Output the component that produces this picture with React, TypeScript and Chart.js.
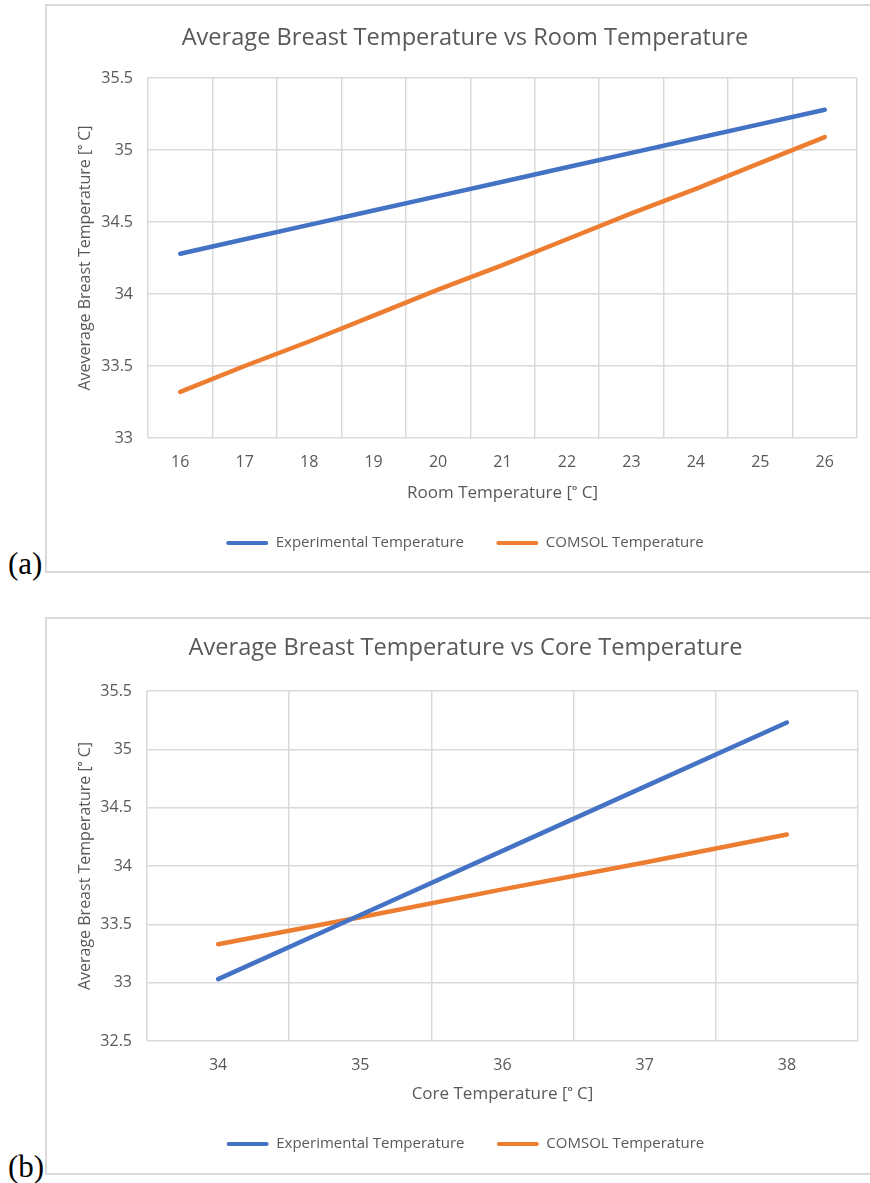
import React, { useEffect, useRef } from 'react';
import { Chart, registerables } from 'chart.js';

Chart.register(...registerables);

// ---------- Data ----------
const roomTemps = ['16', '17', '18', '19', '20', '21', '22', '23', '24', '25', '26'];
const roomExperimental = [34.28, 34.38, 34.48, 34.58, 34.68, 34.78, 34.88, 34.98, 35.08, 35.18, 35.28];
const roomComsol = [33.32, 33.5, 33.67, 33.85, 34.03, 34.2, 34.38, 34.56, 34.73, 34.91, 35.09];

const coreTemps = ['34', '35', '36', '37', '38'];
const coreExperimental = [33.03, 33.58, 34.13, 34.68, 35.23];
const coreComsol = [33.33, 33.56, 33.8, 34.03, 34.27];

const seriesNames = ['Experimental Temperature', 'COMSOL Temperature'];

const titleA = 'Average Breast Temperature vs Room Temperature';
const titleB = 'Average Breast Temperature vs Core Temperature';
const xTitleA = 'Room Temperature [ᵒ C]';
const xTitleB = 'Core Temperature [ᵒ C]';
const yTitleA = 'Aveverage Breast Temperature [ᵒ C]';
const yTitleB = 'Average Breast Temperature [ᵒ C]';

// ---------- Styles ----------
const BLUE = '#4472C4';
const ORANGE = '#ED7D31';
const TEXT = '#595959';
const GRID = '#d9d9d9';
const FONT = '"Open Sans", Lato, sans-serif';

const TITLE_SIZE = 23.6;
const TICK_SIZE = 16;
const X_TITLE_SIZE = 17;
const Y_TITLE_SIZE = 16;
const LEGEND_SIZE = 15;

type Geo = {
  width: number;
  height: number;
  padLeft: number;
  padRight: number;
  plotLeft: number;
  plotTop: number;
  plotBottom: number;
  titleCenter: number;
  xTickCenter: number;
  xTitleCenter: number;
  legendCenter: number;
  yTitleCenter: number;
  yTickPad: number;
};

type Props = {
  labels: string[];
  exp: number[];
  com: number[];
  yMin: number;
  yMax: number;
  title: string;
  xTitle: string;
  yTitle: string;
  geo: Geo;
};

function LineChart({ labels, exp, com, yMin, yMax, title, xTitle, yTitle, geo }: Props) {
  const ref = useRef<HTMLCanvasElement>(null);

  useEffect(() => {
    if (!ref.current) return;
    const tLH = TITLE_SIZE * 1.2;
    const tickLH = TICK_SIZE * 1.2;
    const xLH = X_TITLE_SIZE * 1.2;
    const yLH = Y_TITLE_SIZE * 1.2;
    const titlePadTop = geo.titleCenter - tLH / 2;
    const titlePadBottom = geo.plotTop - titlePadTop - tLH;
    const xTickPad = geo.xTickCenter - geo.plotBottom - tickLH / 2;
    const xHeight = geo.xTitleCenter - geo.plotBottom + xLH / 2;
    const legendPad = geo.legendCenter - geo.plotBottom - xHeight - LEGEND_SIZE / 2;
    const legendH = LEGEND_SIZE + legendPad + 10;
    const padBottom = geo.height - geo.plotBottom - xHeight - legendH;
    const yWidth = geo.plotLeft - geo.padLeft;
    const yTitlePad = geo.yTitleCenter - geo.padLeft - yLH / 2;

    const chart = new Chart(ref.current, {
      type: 'line',
      data: {
        labels,
        datasets: [
          {
            label: seriesNames[0],
            data: exp,
            borderColor: BLUE,
            backgroundColor: BLUE,
            borderWidth: 4.5,
            pointRadius: 0,
            borderCapStyle: 'round',
            tension: 0,
          },
          {
            label: seriesNames[1],
            data: com,
            borderColor: ORANGE,
            backgroundColor: ORANGE,
            borderWidth: 4.5,
            pointRadius: 0,
            borderCapStyle: 'round',
            tension: 0,
          },
        ],
      },
      options: {
        responsive: false,
        animation: false,
        layout: {
          padding: { top: 0, left: geo.padLeft, right: geo.padRight, bottom: padBottom },
        },
        plugins: {
          title: {
            display: true,
            text: title,
            color: TEXT,
            font: { family: FONT, size: TITLE_SIZE, weight: 'normal' },
            padding: { top: titlePadTop, bottom: titlePadBottom },
          },
          legend: {
            display: true,
            position: 'bottom',
            labels: {
              color: TEXT,
              font: { family: FONT, size: LEGEND_SIZE },
              boxWidth: 42,
              boxHeight: 4,
              padding: legendPad,
              useBorderRadius: true,
              borderRadius: 2,
              generateLabels: (c: any) =>
                Chart.defaults.plugins.legend.labels
                  .generateLabels(c)
                  .map((l: any) => ({ ...l, lineWidth: 0 })),
            },
          },
          tooltip: { enabled: false },
        },
        scales: {
          x: {
            type: 'category',
            offset: true,
            grid: { offset: true, color: GRID, lineWidth: 1.5, drawTicks: false },
            border: { display: false },
            ticks: {
              color: TEXT,
              font: { family: FONT, size: TICK_SIZE },
              padding: xTickPad,
              maxRotation: 0,
              autoSkip: false,
            },
            title: {
              display: true,
              text: xTitle,
              color: TEXT,
              font: { family: FONT, size: X_TITLE_SIZE },
              padding: 0,
            },
            afterFit: (s: any) => {
              s.height = xHeight;
            },
          },
          y: {
            type: 'linear',
            min: yMin,
            max: yMax,
            grid: { color: GRID, lineWidth: 1.5, drawTicks: false },
            border: { display: false },
            ticks: {
              stepSize: 0.5,
              color: TEXT,
              font: { family: FONT, size: TICK_SIZE },
              padding: geo.yTickPad,
              callback: (v: any) => String(v),
            },
            title: {
              display: true,
              text: yTitle,
              color: TEXT,
              font: { family: FONT, size: Y_TITLE_SIZE },
              padding: { top: yTitlePad, bottom: 0 },
            },
            afterFit: (s: any) => {
              s.width = yWidth;
            },
          },
        },
      },
    } as any);
    return () => chart.destroy();
  }, []);

  return <canvas ref={ref} width={geo.width} height={geo.height} style={{ width: geo.width, height: geo.height, display: 'block' }} />;
}

const geoA: Geo = {
  width: 823,
  height: 565,
  padLeft: 26,
  padRight: 13,
  plotLeft: 101,
  plotTop: 72,
  plotBottom: 432,
  titleCenter: 32,
  xTickCenter: 456.5,
  xTitleCenter: 487,
  legendCenter: 537,
  yTitleCenter: 38,
  yTickPad: 15,
};

const geoB: Geo = {
  width: 823,
  height: 552,
  padLeft: 26,
  padRight: 12,
  plotLeft: 100,
  plotTop: 72,
  plotBottom: 422,
  titleCenter: 29,
  xTickCenter: 446.5,
  xTitleCenter: 475,
  legendCenter: 525,
  yTitleCenter: 38,
  yTickPad: 15,
};

const frameStyle = (top: number, height: number): React.CSSProperties => ({
  position: 'absolute',
  left: 45,
  top,
  width: 880,
  height,
  border: `2px solid ${GRID}`,
  boxSizing: 'border-box',
  background: '#fff',
});

const tagStyle = (top: number): React.CSSProperties => ({
  position: 'absolute',
  left: 8,
  top,
  fontFamily: '"Liberation Serif", "Times New Roman", serif',
  fontSize: 31,
  lineHeight: 1,
  color: '#000',
});

export default function App() {
  return (
    <div
      style={{
        position: 'absolute',
        left: 0,
        top: 0,
        width: 870,
        height: 1183,
        overflow: 'hidden',
        background: '#fff',
      }}
    >
      <div style={frameStyle(4, 569)} />
      <div style={{ position: 'absolute', left: 47, top: 6 }}>
        <LineChart
          labels={roomTemps}
          exp={roomExperimental}
          com={roomComsol}
          yMin={33}
          yMax={35.5}
          title={titleA}
          xTitle={xTitleA}
          yTitle={yTitleA}
          geo={geoA}
        />
      </div>
      <span style={tagStyle(548)}>(a)</span>

      <div style={frameStyle(617, 558)} />
      <div style={{ position: 'absolute', left: 47, top: 619 }}>
        <LineChart
          labels={coreTemps}
          exp={coreExperimental}
          com={coreComsol}
          yMin={32.5}
          yMax={35.5}
          title={titleB}
          xTitle={xTitleB}
          yTitle={yTitleB}
          geo={geoB}
        />
      </div>
      <span style={tagStyle(1151)}>(b)</span>
    </div>
  );
}
